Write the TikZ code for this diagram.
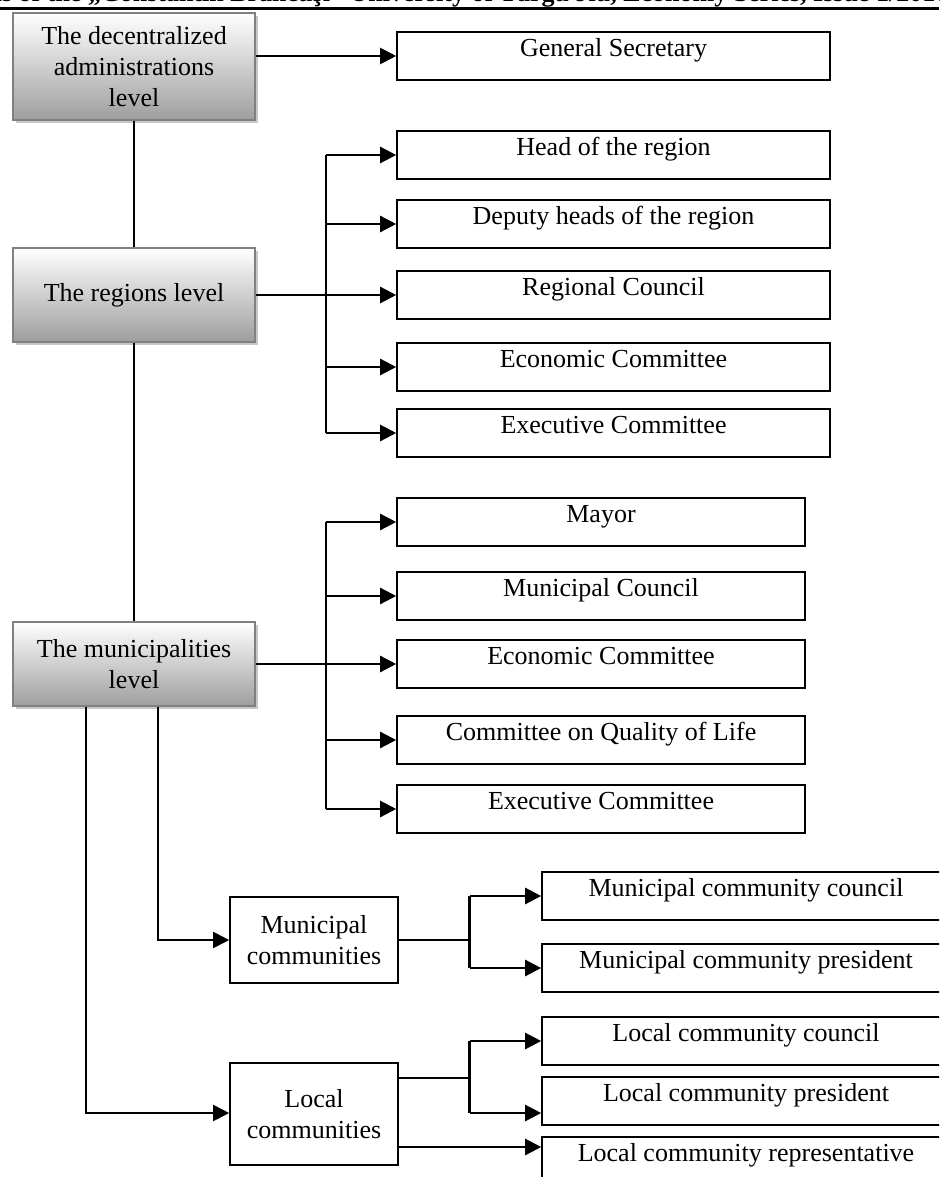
\documentclass[tikz,border=0pt]{standalone}
\usepackage{fontspec}
\setmainfont{Liberation Serif}
\usetikzlibrary{arrows.meta,shadows,calc}
\newcommand\dfont{\fontsize{26}{31}\selectfont}
\begin{document}
\begin{tikzpicture}[x=1pt,y=-1pt,
  lvl/.style={draw=black!50, line width=1.6pt, top color=white, bottom color=black!38,
    drop shadow={shadow xshift=3pt,shadow yshift=-3pt,fill=black!22,opacity=1},
    align=center, font=\dfont, inner sep=0pt, minimum width=242pt},
  ibox/.style={draw=black, line width=1.6pt, fill=white, font=\dfont,
    text height=18pt, text depth=17pt, inner sep=0pt, minimum height=48pt},
  cbox/.style={draw=black, line width=1.6pt, fill=white, font=\dfont, align=center,
    inner sep=0pt, minimum width=168pt},
  thinl/.style={line width=1.4pt},
  brl/.style={line width=2.2pt},
  arr/.style={line width=2.4pt, -{Triangle[length=16pt,width=16pt]}},
  medarr/.style={line width=1.9pt, -{Triangle[length=16pt,width=16pt]}}
]
\useasboundingbox (0,0) rectangle (939,1177);
\clip (0,0) rectangle (939,1177);

% header (cropped)
\node[anchor=base west, font=\bfseries\dfont, inner sep=0pt] (hdr) at (-66,2)
  {Annals of the „Constantin Brâncuşi” University of Târgu Jiu, Economy Series, Issue 1/2016};
\draw[line width=3pt] (0,9) -- (939,9);

% level boxes
\node[lvl, minimum height=107pt] (A) at (134,66.5) {The decentralized\\administrations\\level};
\node[lvl, minimum height=94pt] (B) at (134,295) {The regions level};
\node[lvl, minimum height=84pt] (C) at (134,664) {The municipalities\\level};

% regional boxes
\node[ibox, minimum width=433pt] (gs)  at (613.5,56)  {General Secretary};
\node[ibox, minimum width=433pt] (hr)  at (613.5,155) {Head of the region};
\node[ibox, minimum width=433pt] (dh)  at (613.5,224) {Deputy heads of the region};
\node[ibox, minimum width=433pt] (rc)  at (613.5,295) {Regional Council};
\node[ibox, minimum width=433pt] (ec1) at (613.5,367) {Economic Committee};
\node[ibox, minimum width=433pt] (ex1) at (613.5,433) {Executive Committee};

% municipal boxes
\node[ibox, minimum width=408pt] (my)  at (601,522) {Mayor};
\node[ibox, minimum width=408pt] (mc)  at (601,596) {Municipal Council};
\node[ibox, minimum width=408pt] (ec2) at (601,664) {Economic Committee};
\node[ibox, minimum width=408pt] (ql)  at (601,740) {Committee on Quality of Life};
\node[ibox, minimum width=408pt] (ex2) at (601,809) {Executive Committee};

% community boxes
\node[cbox, minimum height=86pt] (mcom) at (314,940) {Municipal\\communities};
\node[cbox, minimum height=102pt] (lcom) at (314,1114) {Local\\communities};

\node[ibox, minimum width=408pt] (mcc) at (746,896)  {Municipal community council};
\node[ibox, minimum width=408pt] (mcp) at (746,968)  {Municipal community president};
\node[ibox, minimum width=408pt] (lcc) at (746,1041) {Local community council};
\node[ibox, minimum width=408pt] (lcp) at (746,1101) {Local community president};
\node[ibox, minimum width=408pt] (lcr) at (746,1161) {Local community representative};

% branch x positions
\coordinate (rx) at (326,0);
\coordinate (cx) at (469.5,0);
\coordinate (v1) at (86,0);
\coordinate (v2) at (158,0);

% level links
\draw[thinl] (A.south) -- (B.north);
\draw[thinl] (B.south) -- (C.north);
\draw[line width=2.1pt, -{Triangle[length=16pt,width=16pt]}] (A.east |- gs.west) -- (gs.west);

% regions branch
\draw[thinl] (B.east) -- (B.east -| rx);
\draw[brl] (rx |- hr.west) -- (rx |- ex1.west);
\foreach \n in {hr,dh,rc,ec1,ex1} \draw[arr] (rx |- \n.west) -- (\n.west);

% municipalities branch
\draw[thinl] (C.east) -- (C.east -| rx);
\draw[brl] (rx |- my.west) -- (rx |- ex2.west);
\foreach \n in {my,mc,ec2,ql,ex2} \draw[arr] (rx |- \n.west) -- (\n.west);

% communities
\draw[medarr] (C.south -| v2) |- (mcom.west);
\draw[medarr] (C.south -| v1) |- ($(lcom.west)+(0,-1)$);

\draw[thinl] (mcom.east) -- (mcom.east -| cx);
\draw[brl] (cx |- mcc.west) -- (cx |- mcp.west);
\draw[arr] (cx |- mcc.west) -- (mcc.west);
\draw[arr] (cx |- mcp.west) -- (mcp.west);

\coordinate (lco) at ($(lcom.east)+(0,-36)$);
\coordinate (lcpin) at ($(lcp.west)+(0,12)$);
\draw[thinl] (lco) -- (lco -| cx);
\draw[brl] (cx |- lcc.west) -- (cx |- lcpin);
\draw[arr] (cx |- lcc.west) -- (lcc.west);
\draw[arr] (cx |- lcpin) -- (lcpin);
\coordinate (lcro) at ($(lcom.east)+(0,33)$);
\draw[arr] (lcro) -- (lcro -| lcr.west);
\end{tikzpicture}
\end{document}
